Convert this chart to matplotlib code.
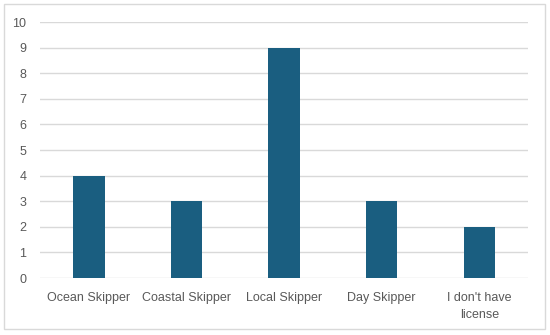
import matplotlib.pyplot as plt
from matplotlib.patches import Rectangle

# データ
categories = ["Ocean Skipper", "Coastal Skipper", "Local Skipper", "Day Skipper", "I don't have\nlicense"]
counts = [4, 3, 9, 3, 2]
y_ticks = list(range(0, 11))

plt.rcParams['font.family'] = ['Liberation Sans', 'DejaVu Sans']

fig = plt.figure(figsize=(5.5, 3.35), dpi=100)
ax = fig.add_axes([0.073, 0.170, 0.887, 0.764])

x = range(len(categories))
ax.bar(x, counts, width=0.32, color="#1a5e80", zorder=3)

ax.set_xlim(-0.5, len(categories) - 0.5)
ax.set_ylim(0, 10)
ax.set_yticks(y_ticks)
ax.set_xticks(list(x))
ax.set_xticklabels(categories, linespacing=1.6)
ax.grid(axis="y", color="#d9d9d9", linewidth=1, zorder=0)
for s in ax.spines.values():
    s.set_visible(False)
ax.tick_params(axis="both", length=0, colors="#595959", labelsize=9)
ax.tick_params(axis="y", pad=10)
ax.tick_params(axis="x", pad=10)

# 外枠
fig.patches.append(Rectangle((4 / 550, 6 / 335), 541 / 550, 325 / 335, transform=fig.transFigure,
                             fill=False, edgecolor="#d9d9d9", linewidth=1))

plt.savefig("out.png", dpi=100)
